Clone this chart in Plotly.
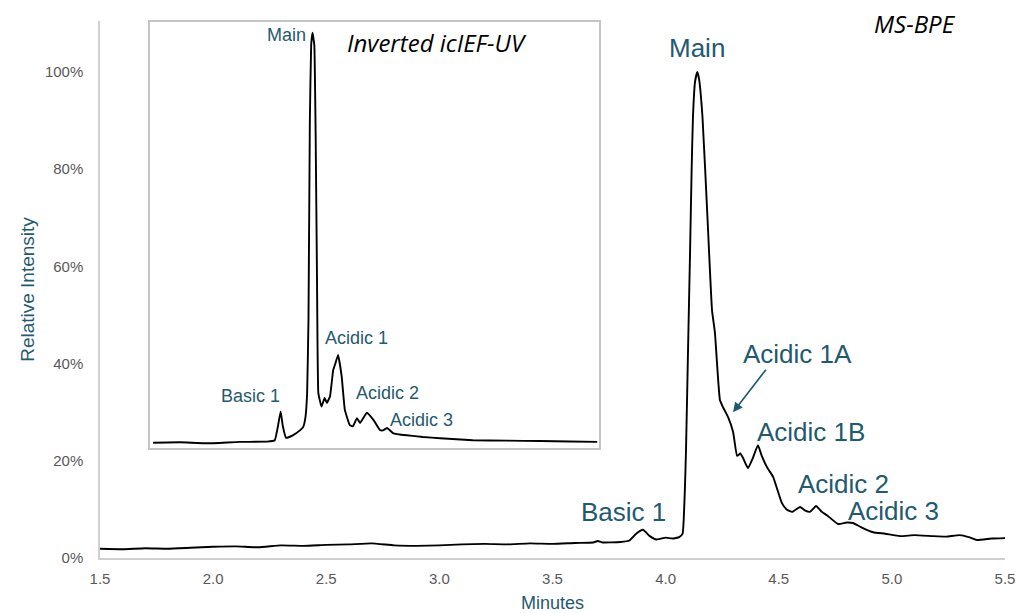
import plotly.graph_objects as go

# ---- Main MS-BPE trace (minutes, relative intensity) ----
ms_minutes = [1.50, 1.60, 1.70, 1.80, 1.90, 2.00, 2.10, 2.20, 2.30, 2.40, 2.50, 2.60,
              2.70, 2.80, 2.90, 3.00, 3.10, 3.20, 3.30, 3.40, 3.50, 3.60, 3.68, 3.70,
              3.72, 3.80, 3.84, 3.87, 3.90, 3.93, 3.96, 4.00, 4.03, 4.06, 4.075, 4.08,
              4.085, 4.09, 4.10, 4.108, 4.115, 4.121, 4.13, 4.14, 4.148, 4.163, 4.185,
              4.205, 4.218, 4.24, 4.254, 4.276, 4.298, 4.316, 4.33, 4.342, 4.364, 4.385,
              4.408, 4.425, 4.448, 4.475, 4.514, 4.535, 4.559, 4.594, 4.615, 4.638,
              4.665, 4.69, 4.713, 4.762, 4.80, 4.828, 4.87, 4.917, 4.97, 5.036, 5.10,
              5.182, 5.24, 5.30, 5.34, 5.376, 5.44, 5.50]
ms_intensity = [0.019, 0.018, 0.020, 0.019, 0.021, 0.023, 0.024, 0.022, 0.026, 0.025, 0.027, 0.028,
                0.030, 0.026, 0.025, 0.026, 0.028, 0.029, 0.028, 0.030, 0.029, 0.031, 0.032, 0.035,
                0.032, 0.033, 0.036, 0.050, 0.058, 0.045, 0.038, 0.042, 0.040, 0.043, 0.050, 0.080,
                0.14, 0.22, 0.45, 0.63, 0.80, 0.91, 0.98, 1.00, 0.985, 0.907, 0.70,
                0.51, 0.463, 0.325, 0.31, 0.29, 0.26, 0.21, 0.215, 0.206, 0.185, 0.205,
                0.232, 0.21, 0.187, 0.167, 0.113, 0.100, 0.095, 0.105, 0.098, 0.095,
                0.107, 0.095, 0.088, 0.070, 0.073, 0.072, 0.062, 0.053, 0.050, 0.045, 0.047,
                0.045, 0.044, 0.047, 0.043, 0.037, 0.040, 0.041]

# ---- Inset icIEF-UV trace (relative position, relative absorbance) ----
ief_position = [0.7, 6.7, 12.7, 20.0, 26.1, 27.8, 28.5, 29.1, 29.6, 30.3, 31.8, 33.4, 34.1,
                34.6, 35.0, 35.3, 35.6, 35.9, 36.2, 36.6, 36.9, 37.2, 37.5, 38.2, 38.9,
                39.4, 40.1, 40.8, 41.2, 41.9, 42.7, 43.4, 44.5, 45.2, 46.1, 46.8, 48.3,
                49.8, 51.2, 51.9, 52.8, 54.2, 57.2, 60.8, 64.6, 71.9, 79.5, 86.9, 93.5, 99.6]
ief_intensity = [0.0, 0.001, -0.0015, 0.002, 0.0025, 0.006, 0.04, 0.076, 0.04, 0.012, 0.018, 0.030, 0.038,
                 0.06, 0.12, 0.30, 0.78, 0.97, 1.0, 0.97, 0.75, 0.40, 0.121, 0.088, 0.109,
                 0.097, 0.113, 0.177, 0.19, 0.214, 0.161, 0.08, 0.043, 0.040, 0.060, 0.048, 0.073,
                 0.055, 0.031, 0.030, 0.036, 0.023, 0.018, 0.014, 0.011, 0.006, 0.005, 0.004, 0.003, 0.002]

# ---- Labels ----
ms_labels = ["Main", "Acidic 1A", "Acidic 1B", "Acidic 2", "Acidic 3", "Basic 1"]
ms_label_x = [4.139, 4.581, 4.643, 4.784, 5.005, 3.812]
ms_label_y = [1.049, 0.420, 0.259, 0.152, 0.097, 0.095]
ief_labels = ["Main", "Basic 1", "Acidic 1", "Acidic 2", "Acidic 3"]
ief_label_x = [30.5, 22.3, 46.1, 53.0, 60.4]
ief_label_y = [0.994, 0.114, 0.255, 0.121, 0.055]

TEAL = "#1f5a70"
GRAY = "#595959"
SANS = "Liberation Sans, Arial, sans-serif"

fig = go.Figure()
fig.add_trace(go.Scatter(x=ms_minutes, y=ms_intensity, mode="lines",
                         line=dict(color="black", width=1.9, shape="spline", smoothing=0.4),
                         xaxis="x", yaxis="y", showlegend=False))
fig.add_trace(go.Scatter(x=ief_position, y=ief_intensity, mode="lines",
                         line=dict(color="black", width=1.9, shape="spline", smoothing=0.3),
                         xaxis="x2", yaxis="y2", showlegend=False))

annotations = []
for t, x, y in zip(ms_labels, ms_label_x, ms_label_y):
    annotations.append(dict(text=t, x=x, y=y, xref="x", yref="y", showarrow=False,
                            font=dict(family=SANS, size=26, color=TEAL)))
# arrow for Acidic 1A
annotations.append(dict(text="", x=4.298, y=0.30, xref="x", yref="y", showarrow=True,
                        ax=34, ay=-44, arrowhead=2, arrowsize=1.2, arrowwidth=1.6,
                        arrowcolor=TEAL))
for t, x, y in zip(ief_labels, ief_label_x, ief_label_y):
    annotations.append(dict(text=t, x=x, y=y, xref="x2", yref="y2", showarrow=False,
                            font=dict(family=SANS, size=18, color=TEAL)))
annotations.append(dict(text="<i>MS-BPE</i>", x=5.102, y=1.099, xref="x", yref="y",
                        showarrow=False, font=dict(family="Open Sans, sans-serif", size=24, color="black")))
annotations.append(dict(text="<i>Inverted icIEF-UV</i>", x=63.9, y=0.977, xref="x2", yref="y2",
                        showarrow=False, font=dict(family="Open Sans, sans-serif", size=24, color="black")))

fig.update_layout(
    width=1018, height=613,
    margin=dict(l=100, r=13, t=21, b=55),
    paper_bgcolor="white", plot_bgcolor="white",
    annotations=annotations,
    xaxis=dict(range=[1.5, 5.5], tickvals=[1.5, 2.0, 2.5, 3.0, 3.5, 4.0, 4.5, 5.0, 5.5],
               ticktext=["1.5", "2.0", "2.5", "3.0", "3.5", "4.0", "4.5", "5.0", "5.5"],
               automargin=False,
               showgrid=False, zeroline=False, showline=True, linecolor="#d0d0d0", linewidth=2,
               ticks="", ticklabelstandoff=6,
               tickfont=dict(family=SANS, size=15, color=GRAY),
               title=dict(text="Minutes", font=dict(family=SANS, size=18, color=TEAL), standoff=13)),
    yaxis=dict(range=[0, 1.105], tickvals=[0, 0.2, 0.4, 0.6, 0.8, 1.0],
               ticktext=["0%", "20%", "40%", "60%", "80%", "100%"],
               automargin=False,
               showgrid=False, zeroline=False, showline=True, linecolor="#d0d0d0", linewidth=1.5,
               ticks="", ticklabelstandoff=12,
               tickfont=dict(family=SANS, size=15, color=GRAY),
               title=dict(text="Relative Intensity", font=dict(family=SANS, size=19, color=TEAL), standoff=5)),
    xaxis2=dict(domain=[0.0552, 0.5514], range=[0, 100], anchor="y2", automargin=False,
                showgrid=False, zeroline=False, showticklabels=False, ticks="",
                showline=True, mirror=True, linecolor="#c4c4c4", linewidth=2),
    yaxis2=dict(domain=[0.2048, 0.9987], range=[-0.013, 1.027], anchor="x2", automargin=False,
                showgrid=False, zeroline=False, showticklabels=False, ticks="",
                showline=True, mirror=True, linecolor="#c4c4c4", linewidth=2),
)

fig.write_html("out.html", config={"displayModeBar": False},
               post_script="document.body.style.margin='0';document.body.style.overflow='hidden';")
